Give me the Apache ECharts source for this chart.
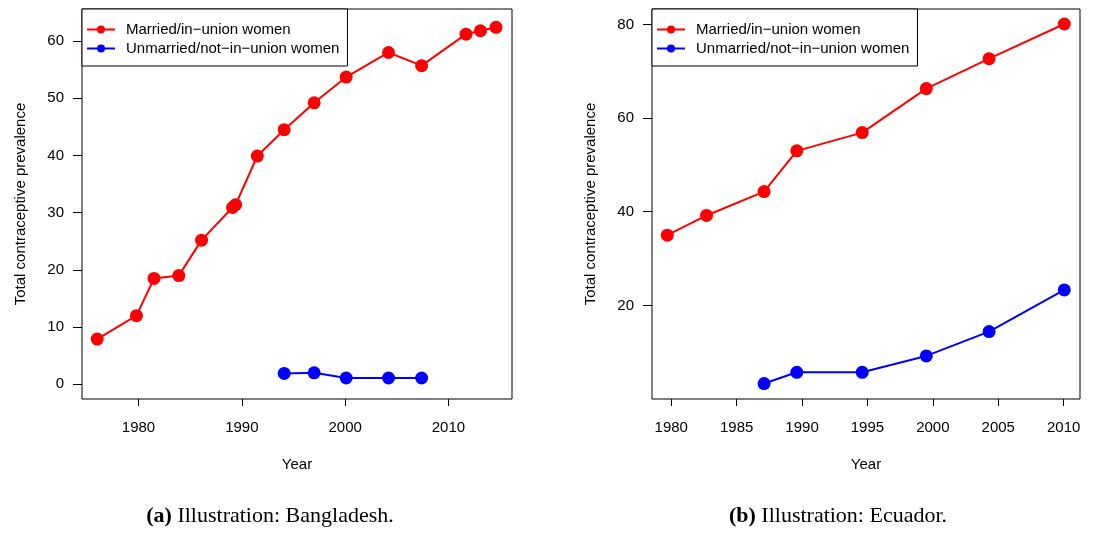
<!DOCTYPE html>
<html>
<head>
<meta charset="utf-8">
<script src="https://cdn.jsdelivr.net/npm/echarts@6/dist/echarts.min.js"></script>
<style>html,body{margin:0;padding:0;background:#fff}#c{width:1104px;height:535px}</style>
</head>
<body>
<div id="c"></div>
<script>
// ---- Data ----
const seriesNames = ['Married/in\u2212union women', 'Unmarried/not\u2212in\u2212union women'];

// Panel (a) Bangladesh
const bdMarriedYears = [1976.0, 1979.8, 1981.5, 1983.9, 1986.1, 1989.1, 1989.4, 1991.5, 1994.1, 1997.0, 2000.1, 2004.2, 2007.4, 2011.7, 2013.1, 2014.6];
const bdMarriedValues = [7.9, 12.0, 18.5, 19.0, 25.2, 30.9, 31.4, 39.9, 44.5, 49.2, 53.7, 58.0, 55.7, 61.2, 61.8, 62.4];
const bdUnmarriedYears = [1994.1, 1997.0, 2000.1, 2004.2, 2007.4];
const bdUnmarriedValues = [1.9, 2.0, 1.1, 1.1, 1.1];
const bdXTicks = [1980, 1990, 2000, 2010];
const bdYTicks = [0, 10, 20, 30, 40, 50, 60];

// Panel (b) Ecuador
const ecMarriedYears = [1979.7, 1982.7, 1987.1, 1989.6, 1994.6, 1999.5, 2004.3, 2010.05];
const ecMarriedValues = [35.0, 39.2, 44.3, 53.0, 56.9, 66.3, 72.7, 80.1];
const ecUnmarriedYears = [1987.1, 1989.6, 1994.6, 1999.5, 2004.3, 2010.05];
const ecUnmarriedValues = [3.3, 5.7, 5.7, 9.2, 14.4, 23.3];
const ecXTicks = [1980, 1985, 1990, 1995, 2000, 2005, 2010];
const ecYTicks = [20, 40, 60, 80];

const captions = [['(a)', 'Illustration: Bangladesh.'], ['(b)', 'Illustration: Ecuador.']];

// ---- Chart ----
const pair = (xs, ys) => xs.map((x, i) => [x, ys[i]]);
const FONT = 'Liberation Sans, Arial, sans-serif';
const txt = { color: '#000', fontFamily: FONT, fontSize: 15 };

function xAx(idx, min, max, ticks) {
  return {
    type: 'value', gridIndex: idx, min: min, max: max,
    name: 'Year', nameLocation: 'middle', nameGap: 58,
    nameTextStyle: Object.assign({}, txt),
    axisLine: { show: false, onZero: false },
    axisTick: { show: true, inside: false, length: 7, customValues: ticks, lineStyle: { color: '#000', width: 1 } },
    axisLabel: Object.assign({ customValues: ticks, margin: 21, formatter: v => String(v) }, txt),
    splitLine: { show: false }
  };
}
function yAx(idx, min, max, ticks) {
  return {
    type: 'value', gridIndex: idx, min: min, max: max,
    name: 'Total contraceptive prevalence', nameLocation: 'middle', nameGap: 54, nameRotate: 90,
    nameTextStyle: Object.assign({}, txt),
    axisLine: { show: false, onZero: false },
    axisTick: { show: true, inside: false, length: 9, customValues: ticks, lineStyle: { color: '#000', width: 1 } },
    axisLabel: Object.assign({ customValues: ticks, margin: 18, formatter: v => String(v) }, txt),
    splitLine: { show: false }
  };
}
function line(name, color, xi, data) {
  return {
    type: 'line', name: name, xAxisIndex: xi, yAxisIndex: xi, data: data,
    symbol: 'circle', symbolSize: 13, showSymbol: true,
    itemStyle: { color: color }, lineStyle: { color: color, width: 2 },
    animation: false
  };
}
function legend(left) {
  return {
    left: left, top: 9, orient: 'vertical',
    data: seriesNames,
    backgroundColor: '#fff', borderColor: '#000', borderWidth: 1,
    padding: [13, 8, 10, 4], itemGap: 4, itemWidth: 28, itemHeight: 10,
    textStyle: Object.assign({ padding: [0, 0, 0, 6] }, txt),
    selectedMode: false
  };
}

const capFont = '22px "Liberation Serif", serif';
const capRich = { b: { fontWeight: 'bold', fontSize: 22, fontFamily: 'Liberation Serif' } };

const chart = echarts.init(document.getElementById('c'), null, { renderer: 'canvas' });
chart.setOption({
  animation: false,
  backgroundColor: '#fff',
  grid: [
    { left: 82, top: 9, width: 430, height: 390, show: true, borderColor: '#000', borderWidth: 1, backgroundColor: 'transparent' },
    { left: 652, top: 9, width: 428, height: 390, show: true, borderColor: '#000', borderWidth: 1, backgroundColor: 'transparent' }
  ],
  xAxis: [xAx(0, 1974.53, 2016.15, bdXTicks), xAx(1, 1978.53, 2011.25, ecXTicks)],
  yAxis: [yAx(0, -2.57, 65.6, bdYTicks), yAx(1, 0, 83.3, ecYTicks)],
  legend: [legend(82), legend(652)],
  series: [
    line(seriesNames[0], '#ff0000', 0, pair(bdMarriedYears, bdMarriedValues)),
    line(seriesNames[1], '#0000ff', 0, pair(bdUnmarriedYears, bdUnmarriedValues)),
    line(seriesNames[0], '#ff0000', 1, pair(ecMarriedYears, ecMarriedValues)),
    line(seriesNames[1], '#0000ff', 1, pair(ecUnmarriedYears, ecUnmarriedValues))
  ],
  graphic: [
    { type: 'text', x: 270, y: 516, style: { text: '{b|' + captions[0][0] + '} ' + captions[0][1], fill: '#000', font: capFont, align: 'center', verticalAlign: 'middle', rich: capRich } },
    { type: 'text', x: 838, y: 516, style: { text: '{b|' + captions[1][0] + '} ' + captions[1][1], fill: '#000', font: capFont, align: 'center', verticalAlign: 'middle', rich: capRich } }
  ]
});
</script>
</body>
</html>
